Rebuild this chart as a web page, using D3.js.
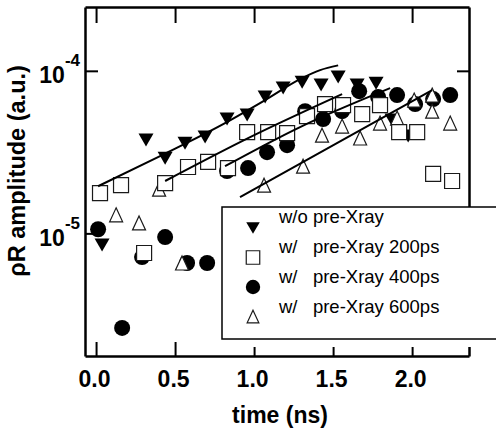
<!DOCTYPE html>
<html><head><meta charset="utf-8">
<script src="https://cdn.jsdelivr.net/npm/d3@7"></script>
<style>
html,body{margin:0;padding:0;background:#fff;}
svg{display:block;font-family:"Liberation Sans",Arial,Helvetica,sans-serif;}
</style></head><body>
<svg id="chart" width="496" height="436"></svg>
<script>
// ---- data (time in ns, amplitude in a.u.) ----
const xTicks = [0, 0.5, 1.0, 1.5, 2.0];
const yTicks = [1e-5, 1e-4];
const xDomain = [-0.07, 2.36];
const yDomain = [1.76e-6, 2.47e-4];
const xTitle = "time (ns)";
const yTitle = "\u03c1R amplitude (a.u.)";
const legendLabels = ["w/o pre-Xray", "w/   pre-Xray 200ps", "w/   pre-Xray 400ps", "w/   pre-Xray 600ps"];

const noPre = [[0.038,8.47e-6],[0.316,3.75e-5],[0.437,2.90e-5],[0.563,3.59e-5],[0.690,3.91e-5],[0.829,5.05e-5],[0.956,5.34e-5],[1.070,6.89e-5],[1.184,7.83e-5],[1.304,8.52e-5],[1.424,8.17e-5],[1.532,9.15e-5],[1.652,8.17e-5],[1.772,8.40e-5],[1.873,4.98e-5],[1.975,3.97e-5]];
const pre200 = [[0.025,1.77e-5],[0.158,1.98e-5],[0.304,7.57e-6],[0.437,2.04e-5],[0.582,2.56e-5],[0.709,2.75e-5],[0.835,2.52e-5],[0.956,4.20e-5],[1.089,4.20e-5],[1.209,4.14e-5],[1.335,5.26e-5],[1.449,6.24e-5],[1.563,6.15e-5],[1.684,5.42e-5],[1.797,6.15e-5],[1.918,4.20e-5],[2.032,4.20e-5],[2.133,2.32e-5],[2.253,2.10e-5]];
const pre400 = [[0.013,1.06e-5],[0.165,2.62e-6],[0.291,7.15e-6],[0.437,9.49e-6],[0.576,6.57e-6],[0.703,6.57e-6],[0.829,2.42e-5],[0.962,2.52e-5],[1.082,3.16e-5],[1.209,3.49e-5],[1.323,5.65e-5],[1.437,5.05e-5],[1.557,5.65e-5],[1.665,7.50e-5],[1.785,6.89e-5],[1.905,7.09e-5],[2.019,6.24e-5],[2.133,6.70e-5],[2.241,7.09e-5]];
const pre600 = [[0.127,1.30e-5],[0.272,1.16e-5],[0.399,1.87e-5],[0.544,6.57e-6],[1.063,1.98e-5],[1.310,2.59e-5],[1.430,4.02e-5],[1.557,4.57e-5],[1.671,3.86e-5],[1.797,4.77e-5],[1.905,5.12e-5],[2.013,6.61e-5],[2.127,7.09e-5],[2.127,5.65e-5],[2.241,4.77e-5]];

const fitNoPre = [[0.013,1.95e-5],[0.405,2.99e-5],[0.816,4.77e-5],[1.070,6.61e-5],[1.291,8.89e-5],[1.418,1.01e-4],[1.532,1.08e-4]];
const fit200 = [[0.437,2.10e-5],[0.975,3.91e-5],[1.557,7.19e-5]];
const fit400 = [[0.816,2.59e-5],[1.291,4.51e-5],[1.861,7.83e-5]];
const fit600 = [[0.911,1.67e-5],[1.513,3.54e-5],[2.127,7.61e-5]];

// ---- layout ----
const W = 496, H = 436;
const m = {top: 7, right: 27, bottom: 80, left: 85};
const svg = d3.select("#chart");
const x = d3.scaleLinear().domain(xDomain).range([m.left, W - m.right]);
const y = d3.scaleLog().domain(yDomain).range([H - m.bottom, m.top]);

function shapePath(type, k) {
  k = k || 1;
  if (type === "tridown") { const w = 7.5*k, h = 6.5*k; return `M${-w},${-h}L${w},${-h}L0,${h}Z`; }
  if (type === "triup") { const w = 6.5*k, h = 7*k; return `M0,${-h}L${w},${h}L${-w},${h}Z`; }
  if (type === "square") { const s = 7.5*k; return `M${-s},${-s}H${s}V${s}H${-s}Z`; }
  const r = 8*k; return `M${r},0A${r},${r} 0 1,1 ${-r},0A${r},${r} 0 1,1 ${r},0Z`;
}
const styles = {
  tridown: {fill: "#000", stroke: "none", sw: 0},
  circle: {fill: "#000", stroke: "none", sw: 0},
  triup: {fill: "#fff", stroke: "#1a1a1a", sw: 1.2},
  square: {fill: "#fff", stroke: "#1a1a1a", sw: 1.2}
};

// ---- axes ----
const fmt = d3.format(".1f");
const gB = svg.append("g").attr("transform", `translate(0,${H - m.bottom})`)
  .call(d3.axisBottom(x).tickValues(xTicks).tickSizeInner(-14).tickSizeOuter(0).tickPadding(15).tickFormat(fmt));
const gT = svg.append("g").attr("transform", `translate(0,${m.top})`)
  .call(d3.axisTop(x).tickValues(xTicks).tickSizeInner(-16).tickSizeOuter(0).tickFormat(() => ""));
const gL = svg.append("g").attr("transform", `translate(${m.left},0)`)
  .call(d3.axisLeft(y).tickValues(yTicks).tickSizeInner(-13).tickSizeOuter(0).tickFormat(() => ""));
const gR = svg.append("g").attr("transform", `translate(${W - m.right},0)`)
  .call(d3.axisRight(y).tickValues(yTicks).tickSizeInner(-12).tickSizeOuter(0).tickFormat(() => ""));
[gB, gT, gL, gR].forEach(g => {
  g.select(".domain").attr("stroke", "#000").attr("stroke-width", 2.5);
  g.selectAll(".tick line").attr("stroke", "#000").attr("stroke-width", 2);
});
gB.selectAll(".tick text").attr("fill", "#000").attr("font-size", 23).attr("font-weight", "bold")
  .attr("font-family", '"Liberation Sans",Arial,sans-serif').attr("dx", -2);

// y tick labels 10^n
yTicks.forEach(v => {
  const t = svg.append("text").attr("x", m.left - 5).attr("y", y(v) + 12.5)
    .attr("text-anchor", "end").attr("font-weight", "bold").attr("fill", "#000");
  t.append("tspan").attr("font-size", 23).text("10");
  t.append("tspan").attr("font-size", 17).attr("dy", -17).text(String(Math.round(Math.log10(v))));
});

// titles
svg.append("text").attr("x", (m.left + W - m.right) / 2 + 3).attr("y", 423)
  .attr("text-anchor", "middle").attr("font-size", 23).attr("font-weight", "bold").text(xTitle);
svg.append("text").attr("transform", `translate(25,${171}) rotate(-90)`)
  .attr("text-anchor", "middle").attr("font-size", 23.5).attr("font-weight", "bold").text(yTitle);

// ---- markers ----
const drawOrder = [[noPre, "tridown"], [pre400, "circle"], [pre600, "triup"], [pre200, "square"]];
drawOrder.forEach(([data, type]) => {
  const st = styles[type];
  svg.append("g").selectAll("path").data(data).join("path")
    .attr("transform", d => `translate(${x(d[0])},${y(d[1])})`)
    .attr("d", shapePath(type))
    .attr("fill", st.fill).attr("stroke", st.stroke).attr("stroke-width", st.sw);
});

// ---- fit lines ----
const line = d3.line().x(d => x(d[0])).y(d => y(d[1])).curve(d3.curveMonotoneX);
[fitNoPre, fit200, fit400, fit600].forEach(f => {
  svg.append("path").attr("d", line(f)).attr("fill", "none").attr("stroke", "#000").attr("stroke-width", 2);
});

// ---- legend ----
const lg = {x: 222, y: 207, w: 300, h: 132};
svg.append("rect").attr("x", lg.x).attr("y", lg.y).attr("width", lg.w).attr("height", lg.h + 8).attr("fill", "#fff");
svg.append("rect").attr("x", lg.x).attr("y", lg.y).attr("width", lg.w).attr("height", lg.h)
  .attr("fill", "none").attr("stroke", "#000").attr("stroke-width", 1.5);
const legendShapes = ["tridown", "square", "circle", "triup"];
legendLabels.forEach((lab, i) => {
  const st = styles[legendShapes[i]];
  svg.append("path").attr("transform", `translate(${lg.x + 31},${lg.y + 21 + 29.5 * i})`)
    .attr("d", shapePath(legendShapes[i], 0.9))
    .attr("fill", st.fill).attr("stroke", st.stroke).attr("stroke-width", st.sw);
  svg.append("text").attr("x", lg.x + 57).attr("y", lg.y + 16 + 30 * i)
    .attr("font-size", 18.5).attr("fill", "#000").style("white-space", "pre").text(lab);
});
</script>
</body></html>
